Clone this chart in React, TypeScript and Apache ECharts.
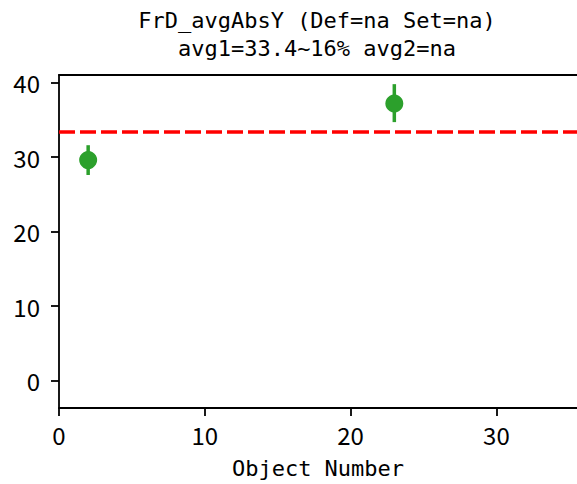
import React, { useEffect, useRef } from "react";
import * as echarts from "echarts";

const titleLine1 = "FrD_avgAbsY (Def=na Set=na)";
const titleLine2 = "avg1=33.4~16% avg2=na";
const xAxisName = "Object Number";

const objectNumbers = [2, 23];
const values = [29.6, 37.2];
const errLow = [27.6, 34.7];
const errHigh = [31.6, 39.8];
const avgValue = 33.4;

const xTicks = [0, 10, 20, 30];
const yTicks = [0, 10, 20, 30, 40];

const FONT = "DejaVu Sans Mono, Liberation Mono, monospace";
const TICK_FONT = "Noto Sans CJK SC, Noto Sans, sans-serif";
const GREEN = "#2ca02c";

export default function App() {
  const ref = useRef<HTMLDivElement>(null);

  useEffect(() => {
    if (!ref.current) return;
    const chart = echarts.init(ref.current, null, { renderer: "svg" });
    const pointData = objectNumbers.map((x, i) => [x, values[i]]);
    const errData = objectNumbers.map((x, i) => [x, errLow[i], errHigh[i]]);

    chart.setOption({
      animation: false,
      backgroundColor: "#ffffff",
      grid: { left: 59, right: 0, top: 75, bottom: 75 },
      graphic: [
        {
          type: "text",
          x: 317,
          y: 20,
          style: {
            text: titleLine1,
            font: `22px ${FONT}`,
            fill: "#000",
            textAlign: "center",
            textVerticalAlign: "middle",
          },
        },
        {
          type: "text",
          x: 317,
          y: 48,
          style: {
            text: titleLine2,
            font: `22px ${FONT}`,
            fill: "#000",
            textAlign: "center",
            textVerticalAlign: "middle",
          },
        },
      ],
      xAxis: [
        {
          type: "value",
          min: 0,
          max: 35.53,
          interval: 10,
          position: "bottom",
          name: xAxisName,
          nameLocation: "middle",
          nameGap: 49,
          nameTextStyle: { fontFamily: FONT, fontSize: 22, color: "#000" },
          axisLine: { show: true, onZero: false, lineStyle: { color: "#000", width: 1.8 } },
          axisTick: { show: true, length: 8, lineStyle: { color: "#000", width: 1.8 } },
          axisLabel: {
            fontFamily: TICK_FONT,
            fontSize: 24,
            color: "#000",
            margin: 14,
            showMaxLabel: false,
            formatter: (v: number) => (xTicks.includes(v) ? String(v) : ""),
          },
          splitLine: { show: false },
        },
        {
          type: "value",
          min: 0,
          max: 35.53,
          position: "top",
          axisLine: { show: true, onZero: false, lineStyle: { color: "#000", width: 1.8 } },
          axisTick: { show: false },
          axisLabel: { show: false },
          splitLine: { show: false },
        },
      ],
      yAxis: {
        type: "value",
        min: -3.7,
        max: 41.03,
        position: "left",
        axisLine: { show: true, onZero: false, lineStyle: { color: "#000", width: 1.8 } },
        axisTick: {
          show: true,
          length: 8,
          lineStyle: { color: "#000", width: 1.8 },
          customValues: yTicks,
        },
        axisLabel: {
          fontFamily: TICK_FONT,
          fontSize: 24,
          color: "#000",
          margin: 19,
          customValues: yTicks,
        },
        splitLine: { show: false },
      },
      series: [
        {
          type: "custom",
          xAxisIndex: 0,
          data: errData,
          renderItem: (params: any, api: any) => {
            const x = api.value(0);
            const p1 = api.coord([x, api.value(1)]);
            const p2 = api.coord([x, api.value(2)]);
            return {
              type: "line",
              shape: { x1: p1[0], y1: p1[1], x2: p2[0], y2: p2[1] },
              style: { stroke: GREEN, lineWidth: 3.5 },
            };
          },
          z: 3,
        },
        {
          type: "scatter",
          xAxisIndex: 0,
          data: pointData,
          symbol: "circle",
          symbolSize: 18,
          itemStyle: { color: GREEN, opacity: 1 },
          z: 4,
          markLine: {
            silent: true,
            symbol: "none",
            label: { show: false },
            lineStyle: { color: "#ff0000", width: 3.5, type: [16, 5] },
            data: [{ yAxis: avgValue }],
          },
        },
      ],
    });
    return () => chart.dispose();
  }, []);

  return (
    <div
      ref={ref}
      style={{ position: "fixed", left: 0, top: 0, width: 577, height: 484 }}
    />
  );
}
